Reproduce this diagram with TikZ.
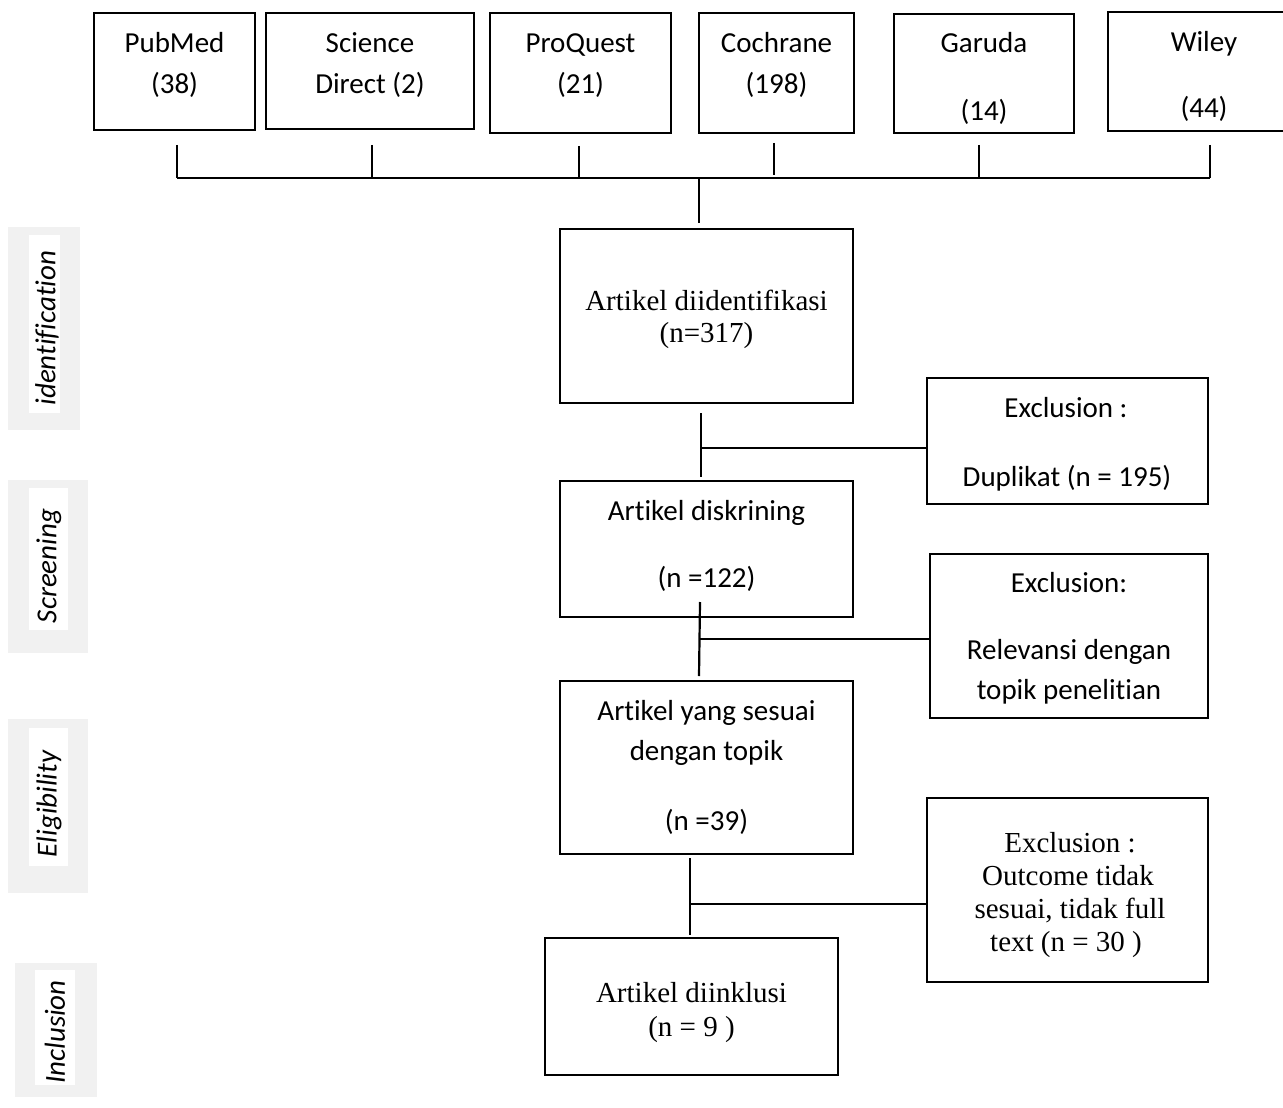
\documentclass[tikz,border=0pt]{standalone}
\usepackage{fontspec}
\setmainfont[Ligatures=NoCommon]{Liberation Serif}
\newfontfamily\calibfont[Ligatures=NoCommon]{Carlito}
\definecolor{sidegray}{RGB}{241,241,241}
\tikzset{
  box/.style={draw=black, line width=0.8pt, rectangle, inner sep=0pt},
  ctxt/.style={font=\calibfont\fontsize{14.5}{17}\selectfont, inner sep=0pt, anchor=base},
  ttxt/.style={font=\fontsize{14.5}{17}\selectfont, inner sep=0pt, anchor=base},
  conn/.style={line width=1.1pt},
  sidetxt/.style={font=\calibfont\itshape\fontsize{14.5}{17}\selectfont, rotate=90, inner sep=0pt},
}
\begin{document}
\begin{tikzpicture}[x=0.5pt,y=-0.5pt]
\useasboundingbox (0,0) rectangle (1283,1107);
\clip (0,0) rectangle (1283,1107);
\fill[white] (0,0) rectangle (1283,1107);

% ---- side labels ----
\fill[sidegray] (8,227) rectangle (80,430);
\fill[white] (29,235) rectangle (60,413);
\node[sidetxt] (s-ident) at (47,328) {identification};
\fill[sidegray] (8,480) rectangle (88,653);
\fill[white] (29,488) rectangle (68,630);
\node[sidetxt] (s-screen) at (49,566) {Screening};
\fill[sidegray] (8,719) rectangle (88,893);
\fill[white] (29,728) rectangle (68,866);
\node[sidetxt] (s-elig) at (49,804) {Eligibility};
\fill[sidegray] (15,963) rectangle (97,1097);
\fill[white] (35,970) rectangle (75,1085);
\node[sidetxt] (s-incl) at (55,1032) {Inclusion};

% ---- top source boxes ----
\node[box, minimum width=80.5pt, minimum height=58.5pt] (pub) at (174.5,71.5) {};
\node[ctxt] (pub-a) at (174.5,53) {PubMed};
\node[ctxt] (pub-b) at (174.5,94) {(38)};

\node[box, minimum width=104pt, minimum height=58pt] (sd) at (370,71) {};
\node[ctxt] (sd-a) at (370,53) {Science};
\node[ctxt] (sd-b) at (370,94) {Direct (2)};

\node[box, minimum width=90.5pt, minimum height=60pt] (pq) at (580.5,73) {};
\node[ctxt] (pq-a) at (580.5,53) {ProQuest};
\node[ctxt] (pq-b) at (580.5,94) {(21)};

\node[box, minimum width=77.5pt, minimum height=60pt] (coch) at (776.5,73) {};
\node[ctxt] (coch-a) at (776.5,53) {Cochrane};
\node[ctxt] (coch-b) at (776.5,94) {(198)};

\node[box, minimum width=90pt, minimum height=59.5pt] (gar) at (984,73.5) {};
\node[ctxt] (gar-a) at (984,53) {Garuda};
\node[ctxt] (gar-b) at (984,121) {(14)};

\node[box, minimum width=96pt, minimum height=59.5pt] (wil) at (1204,71.5) {};
\node[ctxt] (wil-a) at (1204,52) {Wiley};
\node[ctxt] (wil-b) at (1204,118) {(44)};

% ---- main flow boxes ----
\node[box, minimum width=146.5pt, minimum height=87pt] (ident) at (706.5,316) {};
\node[ttxt] (ident-a) at (706.5,310) {Artikel diidentifikasi};
\node[ttxt] (ident-b) at (706.5,342) {(n=317)};

\node[box, minimum width=140.5pt, minimum height=63pt] (ex1) at (1067.5,441) {};
\node[ctxt] (ex1-a) at (1066,417) {Exclusion :};
\node[ctxt] (ex1-b) at (1067,486) {Duplikat (n = 195)};

\node[box, minimum width=146.5pt, minimum height=68pt] (scr) at (706.5,549) {};
\node[ctxt] (scr-a) at (706.5,520) {Artikel diskrining};
\node[ctxt] (scr-b) at (706.5,587) {(n =122)};

\node[box, minimum width=139pt, minimum height=82pt] (ex2) at (1069,636) {};
\node[ctxt] (ex2-a) at (1069,592) {Exclusion:};
\node[ctxt] (ex2-b) at (1069,659) {Relevansi dengan};
\node[ctxt] (ex2-c) at (1069,699) {topik penelitian};

\node[box, minimum width=146.5pt, minimum height=86.5pt] (elig) at (706.5,767.5) {};
\node[ctxt] (elig-a) at (706.5,720) {Artikel yang sesuai};
\node[ctxt] (elig-b) at (706.5,760) {dengan topik};
\node[ctxt] (elig-c) at (706.5,830) {(n =39)};

\node[box, minimum width=140.5pt, minimum height=92pt] (ex3) at (1067.5,890) {};
\node[ttxt] (ex3-a) at (1070,852) {Exclusion :};
\node[ttxt] (ex3-b) at (1068,885) {Outcome tidak};
\node[ttxt] (ex3-c) at (1070,918) {sesuai, tidak full};
\node[ttxt] (ex3-d) at (1066,951) {text (n = 30 )};

\node[box, minimum width=146.5pt, minimum height=68.5pt] (incl) at (691.5,1006.5) {};
\node[ttxt] (incl-a) at (691.5,1002) {Artikel diinklusi};
\node[ttxt] (incl-b) at (691.5,1036) {(n = 9 )};

% ---- connectors: top bus ----
\coordinate (t1) at (177,145);  \coordinate (b1) at (177,178);
\coordinate (t2) at (372,145);  \coordinate (b2) at (372,178);
\coordinate (t3) at (579,146);  \coordinate (b3) at (579,178);
\coordinate (t4) at (774,143);  \coordinate (b4) at (774,175);
\coordinate (t5) at (979,145);  \coordinate (b5) at (979,178);
\coordinate (t6) at (1210,145); \coordinate (b6) at (1210,178);
\draw[conn] (t1) -- (b1);
\draw[conn] (t2) -- (b2);
\draw[conn] (t3) -- (b3);
\draw[conn] (t4) -- (b4);
\draw[conn] (t5) -- (b5);
\draw[conn] (t6) -- (b6);
\draw[conn] (b1) -- (b6);
\coordinate (busm) at (699,178);
\coordinate (busd) at (699,223);
\draw[conn] (busm) -- (busd);

% ---- connectors: flow ----
\coordinate (v1a) at (701,413); \coordinate (v1b) at (701,477);
\coordinate (j1) at (701,448);
\draw[conn] (v1a) -- (v1b);
\draw[conn] (j1) -- (j1 -| ex1.west);

\coordinate (v2a) at (700,602); \coordinate (v2b) at (699,676);
\coordinate (j2) at (700,639);
\draw[conn] (v2a) -- (v2b);
\draw[conn] (j2) -- (j2 -| ex2.west);

\coordinate (v3a) at (690,858); \coordinate (v3b) at (690,935);
\coordinate (j3) at (690,904);
\draw[conn] (v3a) -- (v3b);
\draw[conn] (j3) -- (j3 -| ex3.west);
\end{tikzpicture}
\end{document}
